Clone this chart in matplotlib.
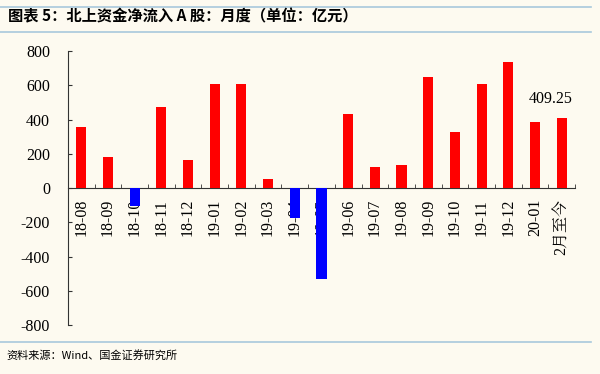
import matplotlib
matplotlib.use("Agg")
import matplotlib.pyplot as plt
from matplotlib.lines import Line2D

categories = ["18-08", "18-09", "18-10", "18-11", "18-12", "19-01", "19-02", "19-03",
              "19-04", "19-05", "19-06", "19-07", "19-08", "19-09", "19-10", "19-11",
              "19-12", "20-01", "2月至今"]
values = [356, 181, -105, 474, 164, 608, 608, 50, -175, -532, 435, 123, 135, 648,
          327, 608, 735, 385, 409.25]
yticks = [-800, -600, -400, -200, 0, 200, 400, 600, 800]
title = "图表 5：北上资金净流入 A 股：月度（单位：亿元）"
source = "资料来源：Wind、国金证券研究所"
annot = "409.25"

bg = "#FDFAF0"
serif = ["Liberation Serif", "Noto Serif CJK SC", "Noto Sans CJK SC"]
fs = 11.5
fig = plt.figure(figsize=(6, 3.74), dpi=100, facecolor=bg)
ax = fig.add_axes([0.1133, 0.131, 0.845, 0.7326])
ax.set_facecolor(bg)

colors = ["#FF0000" if v >= 0 else "#0000FF" for v in values]
x = list(range(len(categories)))
ax.bar(x, values, width=0.38, color=colors, zorder=3)

ax.set_xlim(-0.5, len(categories) - 0.5)
ax.set_ylim(-800, 800)
ax.set_yticks(yticks)
ax.set_yticklabels([str(t) for t in yticks], family=serif, fontsize=fs)

ax.spines["top"].set_visible(False)
ax.spines["right"].set_visible(False)
ax.spines["bottom"].set_position(("data", 0))
ax.spines["left"].set_color("#333333")
ax.spines["bottom"].set_color("#333333")

ax.set_xticks(x)
ax.set_xticklabels(categories, rotation=90, family=serif, fontsize=fs, va="top", ha="center")
ax.tick_params(axis="x", which="major", length=0, pad=8)
ax.set_xticks([i + 0.5 for i in range(len(categories))], minor=True)
ax.tick_params(axis="x", which="minor", direction="in", length=3, color="#333333")
ax.tick_params(axis="y", direction="in", length=3, color="#333333", pad=13)

ax.text(17.6, 520, annot, ha="center", va="center", fontsize=fs, family=serif)

fig.text(0.013, 0.955, title, fontsize=11, fontweight="bold", style="italic",
         family=["Noto Sans CJK SC", "DejaVu Sans"], va="center", ha="left")
fig.add_artist(Line2D([0.0, 0.985], [0.982, 0.982], color="#A8C8DC", lw=1.2))
fig.add_artist(Line2D([0.0, 0.985], [0.914, 0.914], color="#A8C8DC", lw=1.2))
fig.add_artist(Line2D([0.0, 0.985], [0.085, 0.085], color="#A8C8DC", lw=1.2))
fig.text(0.01, 0.05, source, fontsize=8, family=["Noto Sans CJK SC", "DejaVu Sans"],
         va="center", ha="left")

fig.savefig("out.png", dpi=100, facecolor=bg)
